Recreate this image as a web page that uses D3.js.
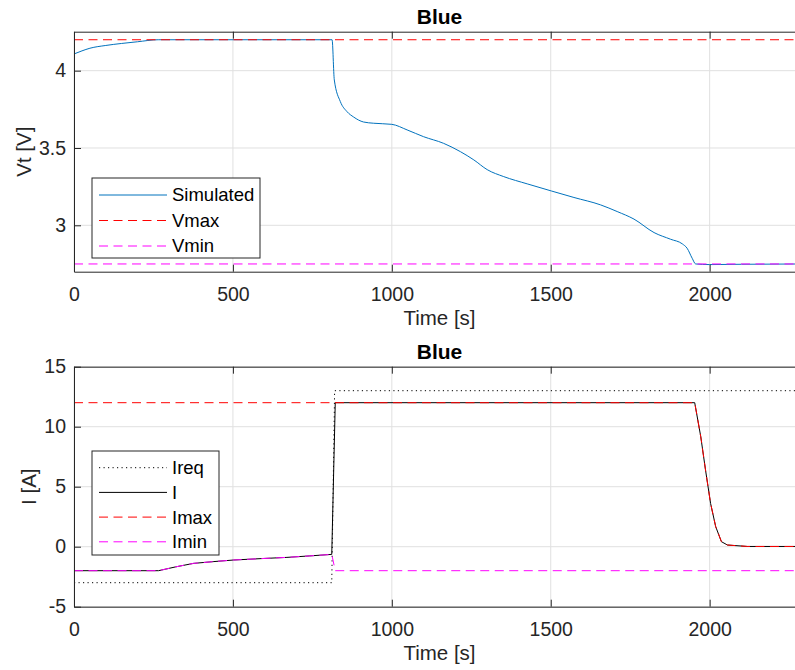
<!DOCTYPE html>
<html>
<head>
<meta charset="utf-8">
<script src="https://cdn.jsdelivr.net/npm/d3@7"></script>
<style>
  html, body { margin: 0; padding: 0; background: #fff; }
  svg { display: block; font-family: "Liberation Sans", Arial, Helvetica, sans-serif; }
</style>
</head>
<body>
<svg id="chart" width="795" height="670"></svg>
<script>
// ---- Terminal voltage (top panel) ----
const vtTime = [0, 25, 50, 100, 150, 200, 265, 812, 819, 838, 859, 880, 911, 943, 1000, 1048, 1100, 1163, 1216, 1258, 1300, 1352, 1426, 1502, 1573, 1657, 1709, 1762, 1825, 1877, 1914, 1929, 1945, 1956, 2000, 2100, 2300];
const vtSimulated = [4.108, 4.128, 4.145, 4.163, 4.176, 4.187, 4.2, 4.2, 3.94, 3.80, 3.735, 3.70, 3.668, 3.66, 3.653, 3.617, 3.573, 3.53, 3.476, 3.423, 3.36, 3.315, 3.268, 3.222, 3.18, 3.132, 3.089, 3.04, 2.953, 2.91, 2.88, 2.852, 2.787, 2.75, 2.746, 2.748, 2.75];
const vLimitTime = [0, 2300];
const vMax = [4.2, 4.2];
const vMin = [2.75, 2.75];

// ---- Current (bottom panel) ----
const iReqTime = [0, 811, 820, 2300];
const iReq = [-3, -3, 13, 13];
const iTime = [0, 266, 320, 376, 440, 502, 590, 670, 740, 811, 822, 1953, 1972, 1987, 2003, 2019, 2037, 2056, 2119, 2300];
const iValues = [-2, -2, -1.68, -1.39, -1.24, -1.11, -0.99, -0.89, -0.77, -0.64, 12, 12, 9.17, 6.39, 3.6, 1.67, 0.42, 0.14, 0.02, 0.02];
const iMaxTime = [0, 1953, 1972, 1987, 2003, 2019, 2037, 2056, 2119, 2300];
const iMax = [12, 12, 9.17, 6.39, 3.6, 1.67, 0.42, 0.14, 0.02, 0.02];
const iMinTime = [0, 266, 320, 376, 440, 502, 590, 670, 740, 811, 822, 2300];
const iMin = [-2, -2, -1.68, -1.39, -1.24, -1.11, -0.99, -0.89, -0.77, -0.64, -2, -2];

const xTicks = [0, 500, 1000, 1500, 2000];
const vtTicks = [3, 3.5, 4];
const iTicks = [-5, 0, 5, 10, 15];

const svg = d3.select("#chart");
svg.append("rect").attr("width", 795).attr("height", 670).attr("fill", "#fff");

const left = 74, right = 805;
const x = d3.scaleLinear().domain([0, 2300]).range([left, right]);

const zip = (t, v) => t.map((d, i) => [d, v[i]]);
const FONT = "Liberation Sans, Arial, sans-serif";

function panel(cfg) {
  const y = d3.scaleLinear().domain(cfg.yDomain).range([cfg.bottom, cfg.top]);
  const g = svg.append("g");
  const clipId = "clip-" + cfg.id;
  svg.append("clipPath").attr("id", clipId)
    .append("rect").attr("x", left).attr("y", cfg.top)
    .attr("width", right - left).attr("height", cfg.bottom - cfg.top);

  // grid
  const grid = g.append("g").attr("stroke", "#e0e0e0").attr("stroke-width", 1);
  grid.selectAll(".gx").data(xTicks).join("line")
    .attr("x1", d => x(d)).attr("x2", d => x(d))
    .attr("y1", cfg.top).attr("y2", cfg.bottom);
  grid.selectAll(".gy").data(cfg.yTicks).join("line")
    .attr("x1", left).attr("x2", right)
    .attr("y1", d => y(d)).attr("y2", d => y(d));

  // series
  const lines = g.append("g").attr("clip-path", `url(#${clipId})`);
  cfg.series.forEach(s => {
    const line = d3.line().x(d => x(d[0])).y(d => y(d[1])).curve(s.curve || d3.curveLinear);
    lines.append("path").datum(zip(s.t, s.v))
      .attr("fill", "none").attr("stroke", s.color).attr("stroke-width", s.width || 1)
      .attr("stroke-dasharray", s.dash || null)
      .attr("d", line);
  });

  // axes (ticks point inward, as in MATLAB)
  const axColor = "#262626";
  const plain = d => String(d);
  const xb = g.append("g").attr("transform", `translate(0,${cfg.bottom})`)
    .call(d3.axisBottom(x).tickValues(xTicks).tickSize(-7).tickSizeOuter(0).tickPadding(15).tickFormat(plain));
  const xt = g.append("g").attr("transform", `translate(0,${cfg.top})`)
    .call(d3.axisTop(x).tickValues(xTicks).tickSize(-7).tickSizeOuter(0).tickFormat(""));
  const yl = g.append("g").attr("transform", `translate(${left},0)`)
    .call(d3.axisLeft(y).tickValues(cfg.yTicks).tickSize(-7).tickSizeOuter(0).tickPadding(8).tickFormat(plain));
  [xb, xt, yl].forEach(a => {
    a.selectAll("path.domain").attr("stroke", axColor).attr("stroke-width", 1);
    a.selectAll(".tick line").attr("stroke", axColor).attr("stroke-width", 1);
    a.selectAll("text").attr("fill", "#262626").attr("font-size", 19.5).attr("font-family", FONT);
  });

  // title and labels
  g.append("text").attr("x", (left + right) / 2).attr("y", cfg.top - 8)
    .attr("text-anchor", "middle").attr("font-weight", "bold").attr("font-size", 21)
    .attr("fill", "#000").text(cfg.title);
  g.append("text").attr("x", (left + right) / 2).attr("y", cfg.bottom + 53)
    .attr("text-anchor", "middle").attr("font-size", 20.5).attr("fill", "#262626").text("Time [s]");
  g.append("text")
    .attr("transform", `translate(${cfg.ylabelX},${(cfg.top + cfg.bottom) / 2}) rotate(-90)`)
    .attr("text-anchor", "middle").attr("font-size", 20.5).attr("fill", "#262626").text(cfg.ylabel);

  // legend
  const L = cfg.legend;
  const lg = g.append("g");
  lg.append("rect").attr("x", L.x).attr("y", L.y).attr("width", L.w).attr("height", L.h)
    .attr("fill", "#fff").attr("stroke", "#262626").attr("stroke-width", 1);
  cfg.series.forEach((s, i) => {
    const cy = L.y + L.first + i * L.step;
    lg.append("line").attr("x1", L.x + 7).attr("x2", L.x + 75).attr("y1", cy).attr("y2", cy)
      .attr("stroke", s.color).attr("stroke-width", s.width || 1).attr("stroke-dasharray", s.dash || null);
    lg.append("text").attr("x", L.x + 80).attr("y", cy).attr("dy", "0.35em")
      .attr("font-size", 18.5).attr("fill", "#000").text(s.name);
  });
}

panel({
  id: "vt", top: 31.7, bottom: 271.7, yDomain: [2.7, 4.252], yTicks: vtTicks,
  title: "Blue", ylabel: "Vt [V]", ylabelX: 31,
  legend: { x: 92, y: 178, w: 168, h: 80, first: 17, step: 25.5 },
  series: [
    { name: "Simulated", t: vtTime, v: vtSimulated, color: "#0072BD", curve: d3.curveMonotoneX },
    { name: "Vmax", t: vLimitTime, v: vMax, color: "#FF0000", dash: "9,5.5" },
    { name: "Vmin", t: vLimitTime, v: vMin, color: "#FF00FF", dash: "9,5.5" }
  ]
});

panel({
  id: "cur", top: 366.7, bottom: 606.7, yDomain: [-5, 15], yTicks: iTicks,
  title: "Blue", ylabel: "I [A]", ylabelX: 36,
  legend: { x: 92, y: 451, w: 127, h: 104, first: 16.7, step: 24.7 },
  series: [
    { name: "Ireq", t: iReqTime, v: iReq, color: "#000", dash: "1.2,3.3" },
    { name: "I", t: iTime, v: iValues, color: "#000" },
    { name: "Imax", t: iMaxTime, v: iMax, color: "#FF0000", dash: "9,5.5" },
    { name: "Imin", t: iMinTime, v: iMin, color: "#FF00FF", dash: "9,5.5" }
  ]
});
</script>
</body>
</html>
